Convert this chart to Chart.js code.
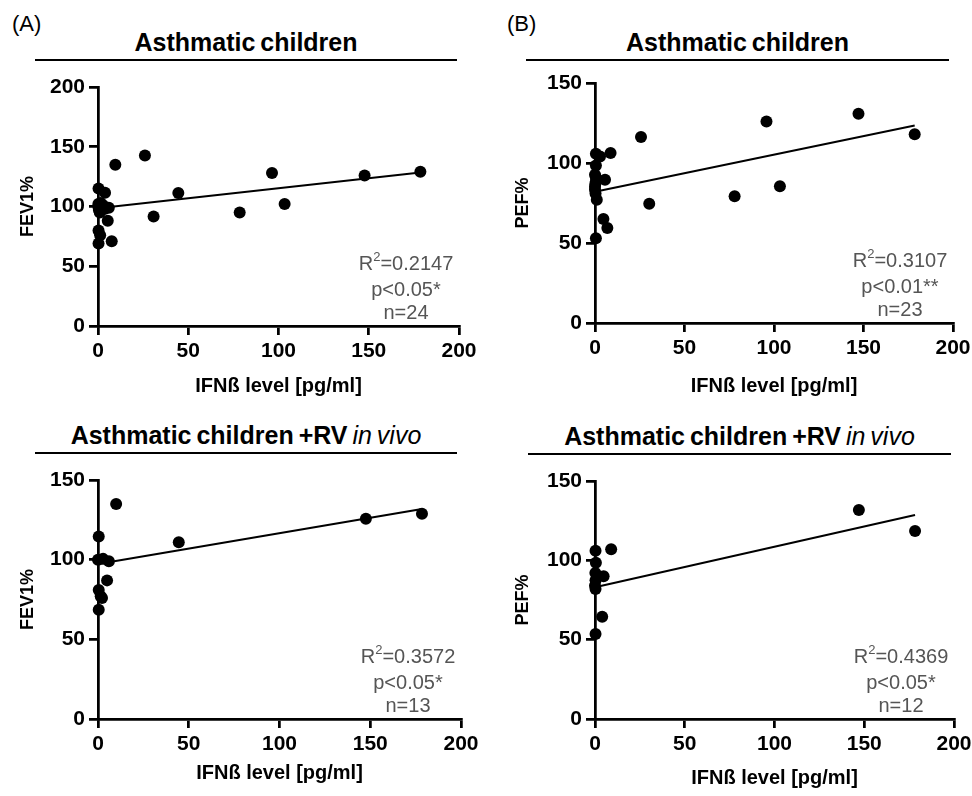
<!DOCTYPE html>
<html>
<head>
<meta charset="utf-8">
<script src="https://cdn.jsdelivr.net/npm/chart.js@4.4.1/dist/chart.umd.min.js"></script>
<style>
  html, body { margin: 0; padding: 0; background: #fff; }
  body { width: 972px; height: 796px; position: relative; overflow: hidden;
         font-family: "Liberation Sans", Arial, sans-serif; color: #000; }
  .tag  { position: absolute; font-size: 22px; line-height: 22px; }
  .ttl  { position: absolute; font-size: 25px; font-weight: bold; text-align: center;
          line-height: 28px; word-spacing: -2px; white-space: nowrap; }
  .ttl i { font-weight: normal; }
  .rule { position: absolute; height: 0; border-top: 2.5px solid #000; }
  canvas { position: absolute; }
</style>
</head>
<body>

<div class="tag" style="left:12px; top:13px;">(A)</div>
<div class="tag" style="left:507px; top:13px;">(B)</div>

<div class="ttl" style="left:35px; width:422px; top:28px;">Asthmatic children</div>
<div class="rule" style="left:35px; width:422px; top:59px;"></div>
<div class="ttl" style="left:526px; width:423px; top:28px;">Asthmatic children</div>
<div class="rule" style="left:526px; width:423px; top:59px;"></div>

<div class="ttl" style="left:35px; width:422px; top:421px;">Asthmatic children +RV <i>in vivo</i></div>
<div class="rule" style="left:35px; width:422px; top:452px;"></div>
<div class="ttl" style="left:528px; width:423px; top:422px;">Asthmatic children +RV <i>in vivo</i></div>
<div class="rule" style="left:528px; width:423px; top:453px;"></div>

<canvas id="a1" width="490" height="330" style="left:0px; top:70px;"></canvas>
<canvas id="b1" width="482" height="330" style="left:490px; top:70px;"></canvas>
<canvas id="a2" width="490" height="336" style="left:0px; top:460px;"></canvas>
<canvas id="b2" width="482" height="336" style="left:490px; top:460px;"></canvas>

<script>
// Tick labels
const X_TICKS = [0, 50, 100, 150, 200];
const Y_TICKS_200 = [0, 50, 100, 150, 200];
const Y_TICKS_150 = [0, 50, 100, 150];

// (A) asthmatic children: IFNb vs FEV1%
const IFN_A1 = [0.3, 3.9, 0.2, 2.8, 6.0, 0.5, 1.5, 3.5, 1.0, 0.2, 5.4, 0.3, 1.2, 7.6, 0.3,
                9.6, 26.0, 30.8, 44.5, 78.5, 96.4, 103.4, 147.7, 178.6];
const FEV_A1 = [115, 111.5, 100, 101, 99, 97, 103, 98, 95, 102, 88, 80, 76, 71, 69,
                135, 142.7, 91.6, 111.2, 95, 128, 102, 126, 129];
const FIT_X_A1 = [0, 178.6];
const FIT_Y_A1 = [98.5, 128.5];
const STATS_A1 = ["0.2147", "p<0.05*", "n=24"];

// (B) asthmatic children: IFNb vs PEF%
const IFN_B1 = [0.5, 2.8, 8.7, 0.5, 0.0, 0.5, 5.6, 0.5, 0.0, 0.0, 0.3, 1.0, 4.7, 6.9, 0.5,
                0.2, 25.7, 30.3, 78.0, 95.8, 103.3, 147.2, 178.6];
const PEF_B1 = [105.8, 104, 106.3, 98.5, 92.7, 91, 89.6, 88.5, 85.2, 83.3, 81, 77, 65, 59.4, 53,
                87, 116.3, 74.6, 79.2, 126, 85.4, 130.8, 118];
const FIT_X_B1 = [0, 178.6];
const FIT_Y_B1 = [82, 123.5];
const STATS_B1 = ["0.3107", "p<0.01**", "n=23"];

// (A) asthmatic children + RV in vivo
const IFN_A2 = [0.4, 0.0, 2.8, 6.0, 5.0, 0.4, 1.5, 2.2, 0.4, 10.0, 44.5, 147.6, 178.5];
const FEV_A2 = [114.5, 100, 100.5, 99, 87, 81, 77, 76, 68.5, 135, 111, 125.7, 128.8];
const FIT_X_A2 = [0, 178.5];
const FIT_Y_A2 = [97.3, 131.8];
const STATS_A2 = ["0.3572", "p<0.05*", "n=13"];

// (B) asthmatic children + RV in vivo
const IFN_B2 = [0.3, 9.0, 0.5, 0.2, 4.8, 0.3, 0.0, 0.3, 4.0, 0.3, 147.0, 178.3];
const PEF_B2 = [106, 107, 98.5, 92, 90, 87.5, 84, 82, 64.5, 53.5, 131.7, 118.5];
const FIT_X_B2 = [0, 178.3];
const FIT_Y_B2 = [83, 128.6];
const STATS_B2 = ["0.4369", "p<0.05*", "n=12"];

const FONT = "'Liberation Sans', Arial, sans-serif";
Chart.defaults.font.family = FONT;
Chart.defaults.color = "#000";

// R² / p / n block in the lower right of each plot
const statsPlugin = {
  id: "stats",
  afterDatasetsDraw(chart, args, opts) {
    const { ctx, chartArea: a } = chart;
    const cx = a.right - 53;
    const big = "20px " + FONT, small = "13px " + FONT;
    ctx.save();
    ctx.fillStyle = "#555";
    ctx.textBaseline = "middle";
    ctx.font = big;
    const rest = "=" + opts.lines[0];
    const wR = ctx.measureText("R").width;
    const wRest = ctx.measureText(rest).width;
    ctx.font = small;
    const w2 = ctx.measureText("2").width;
    let x = cx - (wR + w2 + wRest) / 2;
    const y0 = a.bottom - 62;
    ctx.textAlign = "left";
    ctx.font = big;  ctx.fillText("R", x, y0); x += wR;
    ctx.font = small; ctx.fillText("2", x, y0 - 7); x += w2;
    ctx.font = big;  ctx.fillText(rest, x, y0);
    ctx.textAlign = "center";
    ctx.fillText(opts.lines[1], cx, a.bottom - 36);
    ctx.fillText(opts.lines[2], cx, a.bottom - 13);
    ctx.restore();
  },
};

const pts = (xs, ys) => xs.map((x, i) => ({ x, y: ys[i] }));
const tickList = arr => s => { s.ticks = arr.map(v => ({ value: v })); };

function panel(id, g) {
  new Chart(document.getElementById(id), {
    type: "scatter",
    data: {
      datasets: [
        {
          data: pts(g.x, g.y),
          backgroundColor: "#000", borderColor: "#000",
          pointRadius: 6, pointBorderWidth: 0, clip: false,
        },
        {
          type: "line",
          data: pts(g.fitX, g.fitY),
          borderColor: "#000", borderWidth: 2,
          pointRadius: 0, fill: false, clip: false,
        },
      ],
    },
    options: {
      responsive: false,
      animation: false,
      layout: { padding: { left: 0, top: g.padTop, right: g.padRight, bottom: 0 } },
      plugins: {
        legend: { display: false },
        tooltip: { enabled: false },
        stats: { lines: g.stats },
      },
      scales: {
        x: {
          type: "linear", min: 0, max: 200,
          afterBuildTicks: tickList(X_TICKS),
          afterFit: s => { s.height = g.xh; s.paddingLeft = 0; s.paddingRight = 0; },
          grid: { display: true, drawOnChartArea: false, drawTicks: true, tickLength: 9, color: "#000", lineWidth: 2.75 },
          border: { display: true, color: "#000", width: 2.75 },
          ticks: { color: "#000", font: { size: 21, weight: "bold" }, padding: 4, maxRotation: 0, autoSkip: false },
          title: { display: true, text: "IFNß level [pg/ml]", color: "#000",
                   font: { size: 20, weight: "bold" }, padding: { top: 0, bottom: g.xTitlePad } },
        },
        y: {
          type: "linear", min: 0, max: g.yMax,
          afterBuildTicks: tickList(g.yTicks),
          afterFit: s => { s.width = g.yw; s.paddingTop = 0; s.paddingBottom = 0; },
          grid: { display: true, drawOnChartArea: false, drawTicks: true, tickLength: 9, color: "#000", lineWidth: 2.75 },
          border: { display: true, color: "#000", width: 2.75 },
          ticks: { color: "#000", font: { size: 21, weight: "bold" }, padding: 4, autoSkip: false },
          title: { display: true, text: g.yTitle, color: "#000",
                   font: { size: 18, weight: "bold" }, padding: { top: g.yTitlePad, bottom: 0 } },
        },
      },
    },
    plugins: [statsPlugin],
  });
}

panel("a1", { x: IFN_A1, y: FEV_A1, fitX: FIT_X_A1, fitY: FIT_Y_A1, stats: STATS_A1,
  yMax: 200, yTicks: Y_TICKS_200, yTitle: "FEV1%",
  padTop: 17, padRight: 31, yw: 98, xh: 74, xTitlePad: 2, yTitlePad: 17 });

panel("b1", { x: IFN_B1, y: PEF_B1, fitX: FIT_X_B1, fitY: FIT_Y_B1, stats: STATS_B1,
  yMax: 150, yTicks: Y_TICKS_150, yTitle: "PEF%",
  padTop: 13, padRight: 19, yw: 105, xh: 77, xTitlePad: 2, yTitlePad: 22 });

panel("a2", { x: IFN_A2, y: FEV_A2, fitX: FIT_X_A2, fitY: FIT_Y_A2, stats: STATS_A2,
  yMax: 150, yTicks: Y_TICKS_150, yTitle: "FEV1%",
  padTop: 20, padRight: 29, yw: 98, xh: 77, xTitlePad: 11, yTitlePad: 17 });

panel("b2", { x: IFN_B2, y: PEF_B2, fitX: FIT_X_B2, fitY: FIT_Y_B2, stats: STATS_B2,
  yMax: 150, yTicks: Y_TICKS_150, yTitle: "PEF%",
  padTop: 21, padRight: 18, yw: 105, xh: 77, xTitlePad: 6, yTitlePad: 22 });
</script>
</body>
</html>
